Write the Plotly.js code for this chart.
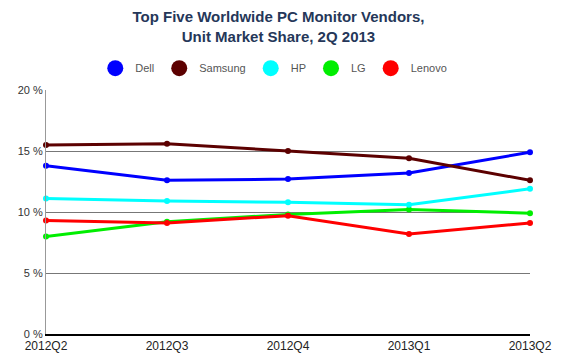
<!DOCTYPE html>
<html>
<head>
<meta charset="utf-8">
<script src="https://cdn.plot.ly/plotly-3.0.1.min.js"></script>
<style>html,body{margin:0;padding:0;background:#fff;}#chart{width:585px;height:355px;}</style>
</head>
<body>
<div id="chart"></div>
<script>
var quarters = ["2012Q2", "2012Q3", "2012Q4", "2013Q1", "2013Q2"];
var vendors = ["Dell", "Samsung", "HP", "LG", "Lenovo"];
var dell    = [13.8, 12.6, 12.7, 13.2, 14.9];
var samsung = [15.5, 15.6, 15.0, 14.4, 12.6];
var hp      = [11.1, 10.9, 10.8, 10.6, 11.9];
var lg      = [8.0, 9.2, 9.8, 10.2, 9.9];
var lenovo  = [9.3, 9.1, 9.7, 8.2, 9.1];
var yTicks = [0, 5, 10, 15, 20];
var colors = ["#0000ff", "#5c0000", "#00ffff", "#00ee00", "#ff0000"];
var series = [dell, samsung, hp, lg, lenovo];

var traces = [];
var order = [3, 4, 2, 0, 1];
order.forEach(function(i){
  traces.push({
    x: quarters, y: series[i], name: vendors[i], type: "scatter", mode: "lines+markers",
    line: {color: colors[i], width: 3}, marker: {color: colors[i], size: 6},
    showlegend: false, hoverinfo: "x+y+name", cliponaxis: false
  });
});
vendors.forEach(function(v, i){
  traces.push({
    x: [null], y: [null], name: v, type: "scatter", mode: "markers",
    marker: {color: colors[i], size: 16}, showlegend: true
  });
});

var layout = {
  width: 585, height: 355,
  margin: {l: 46, r: 55, t: 90, b: 21},
  paper_bgcolor: "#fff", plot_bgcolor: "#fff",
  font: {family: "Liberation Sans, Arial, sans-serif", size: 11, color: "#333"},
  title: {
    text: "<b>Top Five Worldwide PC Monitor Vendors,<br>Unit Market Share, 2Q 2013</b>",
    font: {size: 15, color: "#253759", family: "Liberation Sans, Arial, sans-serif"},
    x: 0.476, xref: "container", xanchor: "center", y: 0.937, yref: "container", yanchor: "top"
  },
  showlegend: true,
  legend: {
    orientation: "h", x: 0.468, xanchor: "center", xref: "container",
    y: 0.808, yref: "container", yanchor: "middle",
    font: {size: 11, color: "#555"}, itemgap: 10, bgcolor: "rgba(0,0,0,0)"
  },
  xaxis: {
    type: "category", range: [0, 4], showgrid: false, zeroline: false,
    showline: true, linecolor: "#000", linewidth: 2,
    ticks: "", tickfont: {size: 12, color: "#222"}, fixedrange: true
  },
  xaxis2: {
    overlaying: "x", anchor: "y", side: "top", range: [0, 4], showline: true,
    linecolor: "#bbbbbb", linewidth: 1, showticklabels: false, ticks: "", showgrid: false, zeroline: false
  },
  yaxis: {
    range: [0, 20], tickvals: yTicks, ticktext: yTicks.map(function(t){return t + " %";}),
    showgrid: true, gridcolor: "#777", gridwidth: 1, zeroline: false,
    showline: true, linecolor: "#999", linewidth: 1,
    ticks: "", tickfont: {size: 11, color: "#333"}, fixedrange: true
  }
};

Plotly.newPlot("chart", traces, layout, {displayModeBar: false, staticPlot: true});
</script>
</body>
</html>
